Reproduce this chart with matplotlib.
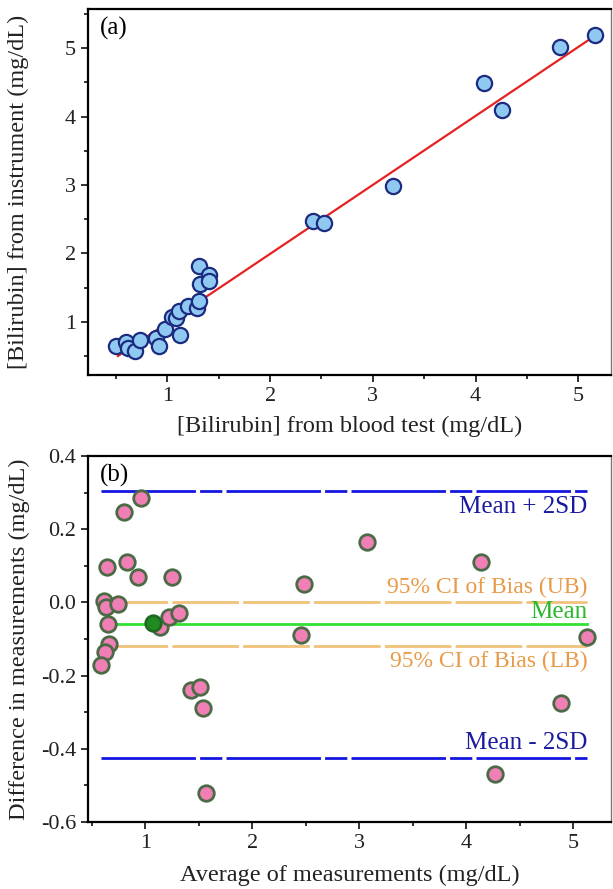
import numpy as np
import matplotlib
matplotlib.use("Agg")
import matplotlib.pyplot as plt
from matplotlib.ticker import MultipleLocator

plt.rcParams['font.family'] = ['Liberation Serif', 'DejaVu Serif']

# (a) blood test vs instrument
blood = [0.50, 0.60, 0.62, 0.69, 0.73, 0.89, 0.92, 0.98, 1.05, 1.08, 1.11, 1.12,
         1.20, 1.29, 1.31, 1.31, 1.32, 1.41, 1.41,
         2.42, 2.52, 3.20, 4.08, 4.26, 4.82, 5.16]
instrument = [0.65, 0.70, 0.62, 0.57, 0.73, 0.77, 0.65, 0.89, 1.07, 1.05, 1.16, 0.80,
              1.23, 1.20, 1.30, 1.81, 1.55, 1.68, 1.60,
              2.47, 2.44, 2.98, 4.49, 4.10, 5.02, 5.19]
fit_slope = 1.009
fit_intercept = -0.025
fit_range = [0.52, 5.19]

# (b) Bland-Altman
avg = [0.96, 0.80, 0.64, 0.83, 0.93, 1.25, 0.615, 0.63, 0.74, 0.65, 1.14, 1.22,
       1.31, 0.66, 0.62, 0.58, 1.43, 1.51, 1.54, 1.57, 2.45, 2.48, 3.07, 4.14,
       4.27, 4.88, 5.13]
diff = [0.284, 0.246, 0.098, 0.110, 0.069, 0.070, 0.005, -0.012, -0.005, -0.059,
        -0.066, -0.039, -0.030, -0.114, -0.136, -0.171, -0.239, -0.232, -0.289,
        -0.52, -0.09, 0.05, 0.165, 0.110, -0.47, -0.275, -0.094]
mean_pt_x = [1.07]
mean_pt_y = [-0.057]
mean_bias = -0.06
sd2_upper = 0.305
sd2_lower = -0.425
ci_upper = 0.0
ci_lower = -0.12

fig = plt.figure(figsize=(6.13, 8.89), dpi=100)
ax1 = fig.add_axes([0.1436, 0.578, 0.853, 0.412])
ax2 = fig.add_axes([0.1436, 0.0754, 0.853, 0.4117])

def style(ax):
    for s in ['left', 'bottom', 'top']:
        ax.spines[s].set_linewidth(1.6)
    ax.spines['right'].set_linewidth(1.0)
    ax.spines['right'].set_color('#777777')
    ax.tick_params(which='both', direction='out', top=False, right=False,
                   width=1.3, labelsize=16, colors='#222222')
    ax.tick_params(which='major', length=5)
    ax.tick_params(which='minor', length=3)

# top panel
ax1.plot(fit_range, [fit_slope * x + fit_intercept for x in fit_range],
         color='#e52222', lw=1.6, zorder=2)
ax1.scatter(blood, instrument, s=120, facecolor='#8fc9f2', edgecolor='#1c2a80',
            linewidth=1.6, zorder=3)
ax1.set_xlim(0.229, 5.316)
ax1.set_ylim(0.22, 5.575)
ax1.xaxis.set_major_locator(MultipleLocator(1))
ax1.xaxis.set_minor_locator(MultipleLocator(0.5))
ax1.yaxis.set_major_locator(MultipleLocator(1))
ax1.yaxis.set_minor_locator(MultipleLocator(0.5))
style(ax1)
ax1.set_xlabel('[Bilirubin] from blood test (mg/dL)', fontsize=17.5,
               color='#222222', labelpad=7)
ax1.set_ylabel('[Bilirubin] from instrument (mg/dL)', fontsize=17.5,
               color='#222222', labelpad=26)
ax1.text(0.022, 0.978, '(a)', transform=ax1.transAxes, fontsize=18,
         va='top', ha='left')

# bottom panel
x0, x1 = min(avg), max(avg)
blue_dash = (0, (34, 1.5, 8, 1.5))
tan_dash = (0, (24, 1.5))
ax2.plot([x0, x1], [sd2_upper] * 2, color='#1515e0', lw=2, linestyle=blue_dash, zorder=2)
ax2.plot([x0, x1], [sd2_lower] * 2, color='#1515e0', lw=2, linestyle=blue_dash, zorder=2)
ax2.plot([x0, x1], [ci_upper] * 2, color='#f0c27a', lw=2, linestyle=tan_dash, zorder=2)
ax2.plot([x0, x1], [ci_lower] * 2, color='#f0c27a', lw=2, linestyle=tan_dash, zorder=2)
ax2.plot([x0, x1], [mean_bias] * 2, color='#33e033', lw=2, zorder=2)
ax2.scatter(avg, diff, s=125, facecolor='#ef7fb4', edgecolor='#4b6a45',
            linewidth=2, zorder=3)
ax2.scatter(mean_pt_x, mean_pt_y, s=125, facecolor='#1f8a1f', edgecolor='#1f6a1f',
            linewidth=2, zorder=4)
ax2.set_xlim(0.463, 5.35)
ax2.set_ylim(-0.6, 0.4)
ax2.xaxis.set_major_locator(MultipleLocator(1))
ax2.xaxis.set_minor_locator(MultipleLocator(0.5))
ax2.yaxis.set_major_locator(MultipleLocator(0.2))
ax2.yaxis.set_minor_locator(MultipleLocator(0.1))
ax2.yaxis.set_major_formatter(plt.FuncFormatter(lambda v, p: f'{v:.1f}'))
style(ax2)
ax2.set_xlabel('Average of measurements (mg/dL)', fontsize=17.5,
               color='#222222', labelpad=9)
ax2.set_ylabel('Difference in measurements (mg/dL)', fontsize=17.5,
               color='#222222', labelpad=8)
ax2.text(0.022, 0.978, '(b)', transform=ax2.transAxes, fontsize=18,
         va='top', ha='left')

ax2.text(x1, sd2_upper - 0.015, 'Mean + 2SD', color='#1a1aa0', fontsize=18,
         ha='right', va='top')
ax2.text(x1, ci_upper + 0.012, '95% CI of Bias (UB)', color='#e89a48', fontsize=17,
         ha='right', va='bottom')
ax2.text(x1, mean_bias + 0.003, 'Mean', color='#2bb82b', fontsize=18,
         ha='right', va='bottom')
ax2.text(x1, ci_lower - 0.012, '95% CI of Bias (LB)', color='#e89a48', fontsize=17,
         ha='right', va='top')
ax2.text(x1, sd2_lower + 0.01, 'Mean - 2SD', color='#1a1aa0', fontsize=18,
         ha='right', va='bottom')

fig.savefig('out.png', dpi=100)
